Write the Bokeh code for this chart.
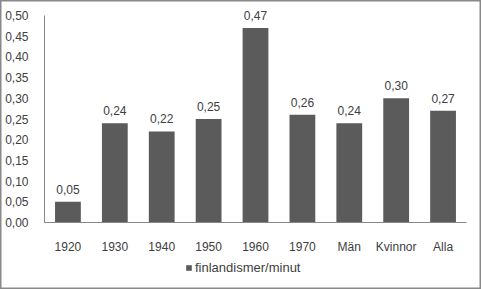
from bokeh.plotting import figure
from bokeh.models import (ColumnDataSource, Range1d, FixedTicker, CustomJSTickFormatter,
                          Legend, LegendItem, LabelSet)
from bokeh.core.properties import value
from bokeh.embed import file_html
from bokeh.resources import INLINE

categories = ["1920", "1930", "1940", "1950", "1960", "1970", "Män", "Kvinnor", "Alla"]
values = [0.05, 0.24, 0.22, 0.25, 0.47, 0.26, 0.24, 0.30, 0.27]
series_name = "finlandismer/minut"
y_ticks = [0.0, 0.05, 0.10, 0.15, 0.20, 0.25, 0.30, 0.35, 0.40, 0.45, 0.50]

labels = [f"{v:.2f}".replace(".", ",") for v in values]
xpos = [i + 0.5 for i in range(len(categories))]
src = ColumnDataSource(data=dict(x=xpos, val=values, lab=labels))

FONT = "Liberation Sans"
TXT = "#404040"
AX = "#868686"
BAR = "#5b5b5b"

W, H = 481, 289
# plot area in pixels (reference layout)
PL, PR, PT, PB = 44, 466, 15, 222
n = len(categories)
ymax = 0.5
xs = (PR - PL) / n              # px per category
ys = (PB - PT) / ymax           # px per unit
x_range = Range1d(-PL / xs, n + (W - PR) / xs)
y_range = Range1d(-(H - PB) / ys, ymax + PT / ys)

p = figure(x_range=x_range, y_range=y_range, width=W, height=H,
           output_backend="svg", toolbar_location=None,
           min_border_left=0, min_border_right=0, min_border_top=0, min_border_bottom=0)
p.outline_line_color = "#898989"
p.outline_line_width = 2
p.background_fill_color = "white"
p.border_fill_color = "white"
p.xgrid.grid_line_color = None
p.ygrid.grid_line_color = None

r = p.vbar(x="x", top="val", width=0.55, source=src, fill_color=BAR, line_color=None)
p.add_layout(LabelSet(x="x", y="val", text="lab", source=src, text_align="center",
                      text_baseline="alphabetic", y_offset=8, text_font=value(FONT),
                      text_font_size=value("12px"), text_color=TXT))

for ax in (p.xaxis[0], p.yaxis[0]):
    ax.axis_line_color = AX
    ax.major_tick_line_color = None
    ax.minor_tick_line_color = None
    ax.major_label_text_font = FONT
    ax.major_label_text_font_size = "12px"
    ax.major_label_text_color = TXT
    ax.fixed_location = 0
p.xaxis.bounds = (0, n)
p.yaxis.bounds = (0, ymax)
p.xaxis.major_label_standoff = 11
p.yaxis.major_label_standoff = 10
p.xaxis.ticker = FixedTicker(ticks=xpos)
p.xaxis.formatter = CustomJSTickFormatter(args=dict(cats=categories),
                                          code="return cats[Math.floor(tick)];")
p.yaxis.ticker = FixedTicker(ticks=y_ticks)
p.yaxis.formatter = CustomJSTickFormatter(code="return tick.toFixed(2).replace('.', ',');")

legend = Legend(items=[LegendItem(label=series_name, renderers=[r])], location=(185, 14),
                orientation="horizontal", glyph_width=7, glyph_height=7, label_standoff=3,
                padding=0, margin=0, spacing=0, border_line_color=None,
                background_fill_alpha=0, label_text_font=FONT, label_text_font_size="13px",
                label_text_color=TXT)
p.add_layout(legend, "center")

open("out.html", "w").write(file_html(p, INLINE))
